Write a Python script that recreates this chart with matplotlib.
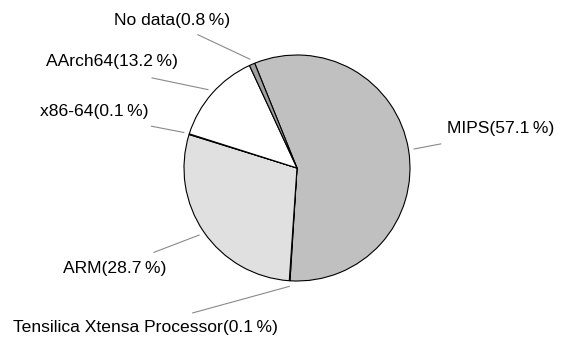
import numpy as np
import matplotlib
matplotlib.use("Agg")
import matplotlib.pyplot as plt

plt.rcParams['font.family'] = ['Liberation Sans', 'DejaVu Sans']

# data, clockwise from the top
names = ['MIPS', 'Tensilica Xtensa Processor', 'ARM', 'x86-64', 'AArch64', 'No data']
shares = [57.1, 0.1, 28.7, 0.1, 13.2, 0.8]
colors = ['#c0c0c0', '#8c8c8c', '#e0e0e0', '#f4f4f4', '#ffffff', '#a0a0a0']

# label layout: leader end (angle shift from wedge middle, radius) and text offset in px
end_shift = [0.3, -32.0, -3.9, 1.4, 9.5, 13.2]
end_r = [1.29, 1.58, 1.47, 1.34, 1.51, 1.47]
text_off = [(60, 15), (-47, -15), (-39, -16), (-57, 15), (-40, 16), (-26, 14)]

W, H, DPI = 563, 343, 100
R_PX = 113.0
CX, CY = 297.0, 168.0   # pie centre in pixels from top-left

fig = plt.figure(figsize=(W / DPI, H / DPI), dpi=DPI)
ax = fig.add_axes([0, 0, 1, 1])

wedges, _ = ax.pie(shares, colors=colors, startangle=112, counterclock=False,
                   radius=1.0,
                   wedgeprops=dict(edgecolor='black', linewidth=0.8))

ax.set_xlim(-CX / R_PX, (W - CX) / R_PX)
ax.set_ylim(-(H - CY) / R_PX, CY / R_PX)
ax.set_aspect('auto')
ax.axis('off')

for i, w in enumerate(wedges):
    mid = np.deg2rad((w.theta1 + w.theta2) / 2)
    x0, y0 = 1.05 * np.cos(mid), 1.05 * np.sin(mid)
    ang = mid + np.deg2rad(end_shift[i])
    x1, y1 = end_r[i] * np.cos(ang), end_r[i] * np.sin(ang)
    ax.plot([x0, x1], [y0, y1], color='#8a8a8a', lw=0.8)
    label = f'{names[i]}({shares[i]:.1f}\u2009%)'
    ax.annotate(label, xy=(x1, y1), xytext=text_off[i], textcoords='offset pixels',
                ha='center', va='center', fontsize=12.6, color='black')

fig.savefig('out.png', dpi=DPI, facecolor='white')
